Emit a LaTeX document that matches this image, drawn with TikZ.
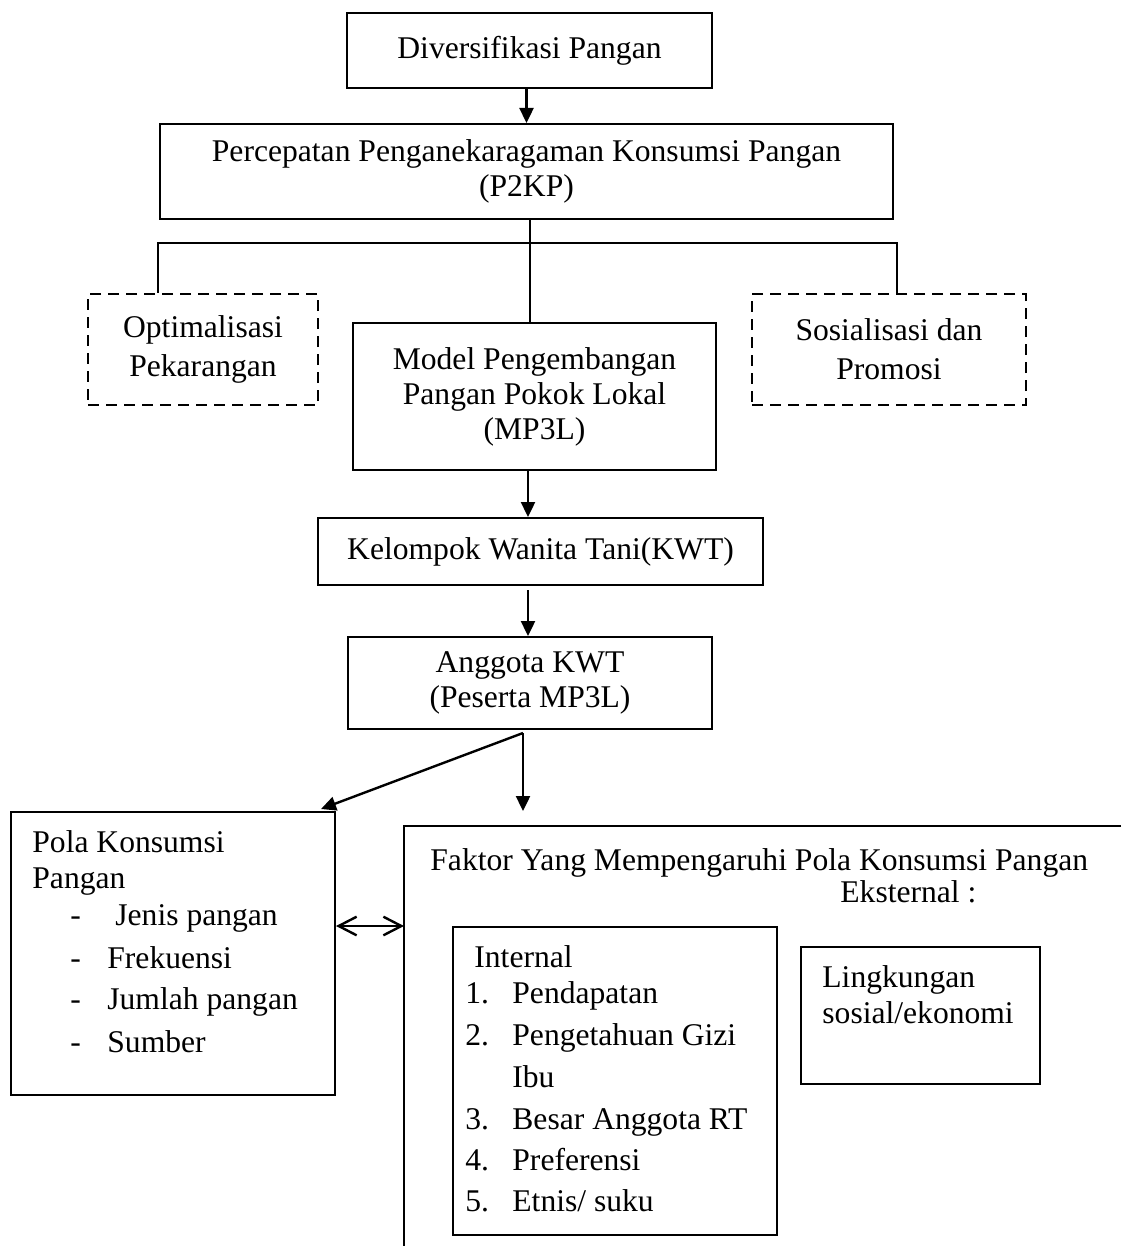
\documentclass[tikz,border=0pt]{standalone}
\usepackage{fontspec}
\setmainfont{Liberation Serif}
\usetikzlibrary{arrows.meta}

\tikzset{
  box/.style={draw, line width=1pt, inner sep=0pt, align=center},
  dashbox/.style={box, line width=1.3pt, dash pattern=on 5.5pt off 3.5pt, font=\fontsize{15.8}{19.5}\selectfont},
  txt/.style={inner sep=0pt, anchor=base west},
  flow/.style={line width=1.2pt, -{Triangle[length=7.5pt,width=7pt]}},
  link/.style={line width=1pt},
  both/.style={line width=1.2pt, {Straight Barb[length=9pt,width=9.3pt]}-{Straight Barb[length=9pt,width=9.3pt]}}
}

\begin{document}
\begin{tikzpicture}[x=0.5pt, y=-0.5pt, font=\fontsize{15.8}{17.5}\selectfont]
  \useasboundingbox (0,0) rectangle (1121,1246);

  % Top of the chain
  \node[box, minimum width=182.5pt, minimum height=37.5pt] (div) at (529.5,50.5) {Diversifikasi Pangan};
  \node[box, minimum width=366.5pt, minimum height=47.5pt] (p2kp) at (526.5,171.5) {Percepatan Penganekaragaman Konsumsi Pangan\\(P2KP)};

  % Three programmes
  \node[dashbox, minimum width=115pt, minimum height=55.5pt] (opt) at (203,349.5) {Optimalisasi\\Pekarangan};
  \node[dashbox, minimum width=137pt, minimum height=55.5pt] (sos) at (889,349.5) {Sosialisasi dan\\Promosi};
  \node[box, minimum width=181.5pt, minimum height=73.5pt] (mp3l) at (534.5,396.5) {Model Pengembangan\\Pangan Pokok Lokal\\(MP3L)};

  % Groups
  \node[box, minimum width=222.5pt, minimum height=33.5pt] (kwt) at (540.5,551.5) {Kelompok Wanita Tani(KWT)};
  \node[box, minimum width=182pt, minimum height=46pt] (ang) at (530,683) {Anggota KWT\\(Peserta MP3L)};

  % Bottom boxes
  \node[box, minimum width=162pt, minimum height=141.5pt] (pola) at (173,953.5) {};
  \node[box, minimum width=162pt, minimum height=154pt] (intern) at (615,1081) {};
  \node[box, minimum width=119.5pt, minimum height=68.5pt] (ling) at (920.5,1015.5) {};

  % Open frame of the factors
  \coordinate (fak) at (404,826);
  \coordinate (fakR) at (1121,826);
  \coordinate (fakB) at (404,1246);
  \draw[link] (fakR) -- (fak) -- (fakB);

  % Pola konsumsi text
  \node[txt] (polaA) at (32,852) {Pola Konsumsi};
  \node[txt] (polaB) at (32,888) {Pangan};
  \node[txt] (dashA) at (70,925) {-};
  \node[txt] (polaC) at (115,925) {Jenis pangan};
  \node[txt] (dashB) at (70,968) {-};
  \node[txt] (polaD) at (107,968) {Frekuensi};
  \node[txt] (dashC) at (70,1009) {-};
  \node[txt] (polaE) at (107,1009) {Jumlah pangan};
  \node[txt] (dashD) at (70,1052) {-};
  \node[txt] (polaF) at (107,1052) {Sumber};

  % Factor text
  \node[txt] (fakT) at (430,870) {Faktor Yang Mempengaruhi Pola Konsumsi Pangan};
  \node[txt] (eks) at (840,902) {Eksternal :};

  % Internal list
  \node[txt] (inA) at (474,967) {Internal};
  \node[txt] (numA) at (465,1003) {1.};
  \node[txt] (inB) at (512,1003) {Pendapatan};
  \node[txt] (numB) at (465,1045) {2.};
  \node[txt] (inC) at (512,1045) {Pengetahuan Gizi};
  \node[txt] (inD) at (512,1087) {Ibu};
  \node[txt] (numC) at (465,1129) {3.};
  \node[txt] (inE) at (512,1129) {Besar Anggota RT};
  \node[txt] (numD) at (465,1170) {4.};
  \node[txt] (inF) at (512,1170) {Preferensi};
  \node[txt] (numE) at (465,1211) {5.};
  \node[txt] (inG) at (512,1211) {Etnis/ suku};

  % External text
  \node[txt] (lingA) at (822,987) {Lingkungan};
  \node[txt] (lingB) at (822,1023) {sosial/ekonomi};

  % Helper points
  \coordinate (hub) at (530,243);
  \coordinate (brL) at (158,243);
  \coordinate (brR) at (897,243);
  \coordinate (spine) at (528,0);
  \coordinate (split) at (523,733);
  \coordinate (dblY) at (0,926);
  \path (kwt.south -| spine) ++(0,4) coordinate (kwtGap);
  \path (split |- fak) ++(0,-15) coordinate (fakIn);

  % Connectors
  \draw[flow] (div.south -| p2kp.north) -- (p2kp.north);
  \draw[link] (p2kp.south -| hub) -- (mp3l.north -| hub);
  \draw[link] (brL |- opt.north) -- (brL) -- (brR) -- (brR |- sos.north);
  \draw[flow] (mp3l.south -| spine) -- (kwt.north -| spine);
  \draw[flow] (kwtGap) -- (ang.north -| spine);
  \draw[flow] (split) -- ([xshift=-7.5pt,yshift=1pt]pola.north east);
  \draw[flow] (split) -- (fakIn);
  \draw[both] (pola.east |- dblY) -- (fak |- dblY);
\end{tikzpicture}
\end{document}
